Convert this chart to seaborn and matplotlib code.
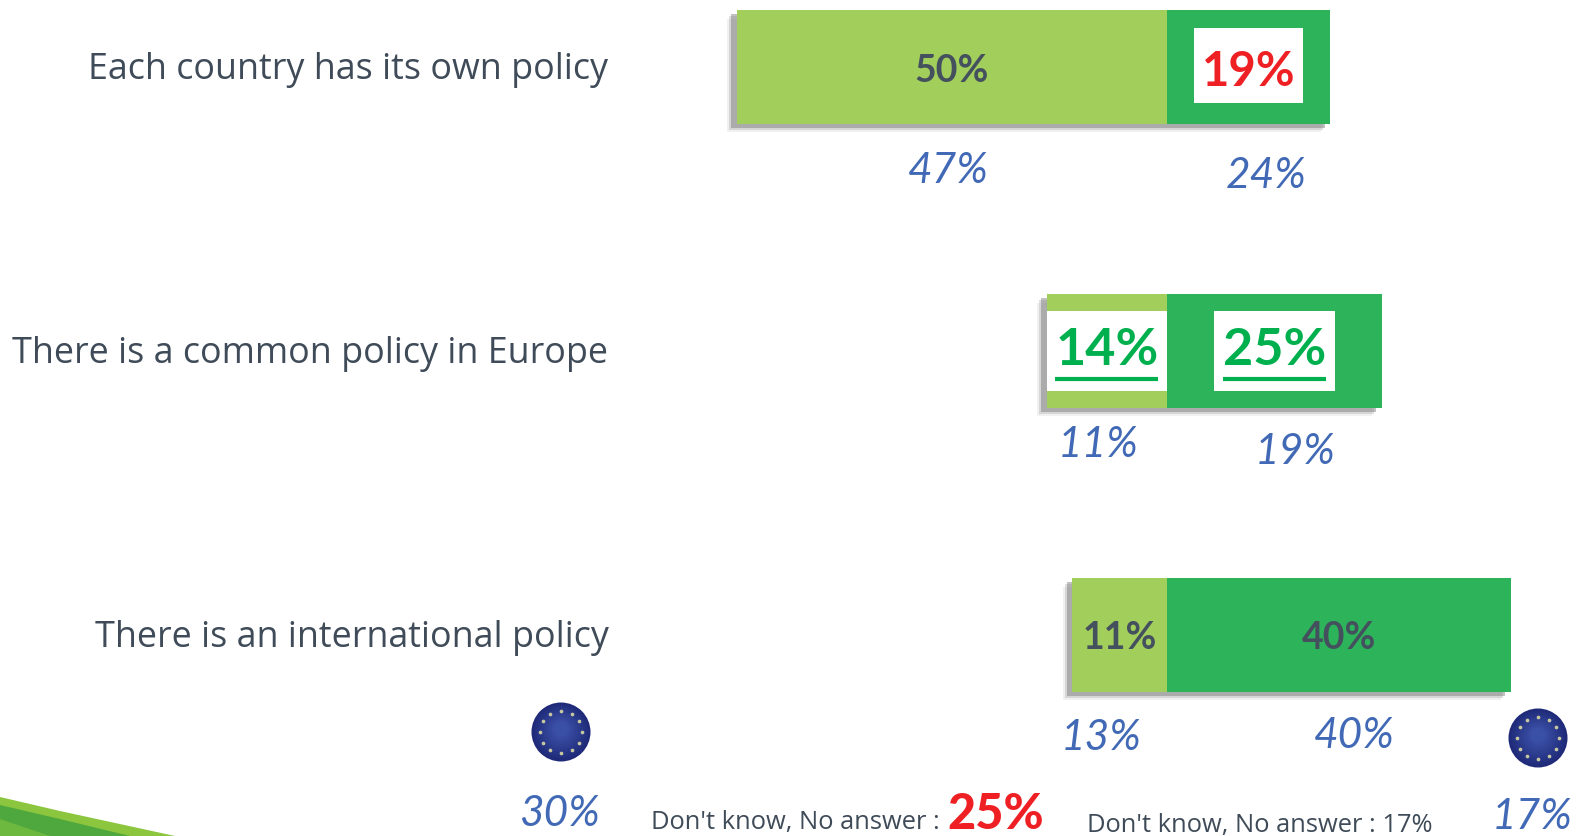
import numpy as np
import pandas as pd
import matplotlib
matplotlib.use("Agg")
import matplotlib.pyplot as plt
import matplotlib.patheffects as pe
from matplotlib.colors import to_rgb
from matplotlib.patches import Circle, Polygon, Rectangle
from matplotlib.transforms import ScaledTranslation
import seaborn as sns

W, H = 1578, 837

categories = ["Each country has its own policy",
              "There is a common policy in Europe",
              "There is an international policy"]
left_values = [50, 14, 11]
right_values = [19, 25, 40]
eu_left_values = [47, 11, 13]
eu_right_values = [24, 19, 40]
eu_none = [30, 17]
dont_know = [25, 17]

LIGHT = "#A2CE5C"
DARK = "#2DB45A"
SLATE = "#44505E"
BLUE = "#4169B5"
RED = "#EE2024"
GREEN = "#00B04F"

sns.set_theme(style="white")
plt.rcParams["font.family"] = "Open Sans"

df = pd.DataFrame({"category": categories,
                   "left": -np.array(left_values),
                   "right": right_values})

fig = plt.figure(figsize=(W / 100, H / 100), dpi=100)
ax_left = 614
ax = fig.add_axes([ax_left / W, 0, 1 - ax_left / W, 1])

# right bars go first, so the shadow of the left ones stays on top of nothing
sns.barplot(data=df, x="right", y="category", color=DARK, saturation=1,
            width=0.4, errorbar=None, orient="h", ax=ax)
sns.barplot(data=df, x="left", y="category", color=LIGHT, saturation=1,
            width=0.4, errorbar=None, orient="h", ax=ax)

shadow = [pe.SimplePatchShadow(offset=(-7, -6), shadow_rgbFace="#bbbbbb", alpha=0.2),
          pe.SimplePatchShadow(offset=(-5.5, -4.5), shadow_rgbFace="#999999", alpha=0.3),
          pe.SimplePatchShadow(offset=(-4, -3), shadow_rgbFace="#777777", alpha=0.45),
          pe.Normal()]
for bar in ax.patches:
    bar.set_path_effects(shadow)
    bar.set_linewidth(0)

# 8.6 px per percent, zero at the split of the bars
px_per_pct = 8.6
zero_px = 1167
row_px = 284
ax.set_xlim((ax_left - zero_px) / px_per_pct, (W - zero_px) / px_per_pct)
ax.set_ylim((H - 68) / row_px, -68 / row_px)
ax.set_xlabel("")
ax.set_ylabel("")
ax.set_xticks([])
ax.tick_params(axis="y", length=0, pad=4, labelsize=25.8, labelcolor="#3F4B58")
sns.despine(ax=ax, left=True, bottom=True)

# labels sit a touch above the bar centres
lift = ScaledTranslation(0, 2 / 100, fig.dpi_scale_trans)
for lab in ax.get_yticklabels():
    lab.set_transform(lab.get_transform() + lift)

num_font = {"family": "Lato", "weight": "bold", "ha": "center", "va": "center"}

# plain labels inside bars
ax.text(-left_values[0] / 2, 0.012, f"{left_values[0]}%", color=SLATE, fontsize=27, **num_font)
ax.text(-left_values[2] / 2, 2.008, f"{left_values[2]}%", color=SLATE, fontsize=27, **num_font)
ax.text(right_values[2] / 2, 2.008, f"{right_values[2]}%", color=SLATE, fontsize=27, **num_font)

# highlighted labels on white boxes
ax.add_patch(Rectangle((right_values[0] / 2 - 6.35, -0.136), 12.7, 0.264, fc="white", lw=0, zorder=4))
ax.text(right_values[0] / 2, 0.015, f"{right_values[0]}%", color=RED, fontsize=34, zorder=5, **num_font)
for val, sign in [(left_values[1], -1), (right_values[1], 1)]:
    cx = sign * val / 2
    ax.add_patch(Rectangle((cx - 7, 1 - 0.141), 14, 0.282, fc="white", lw=0, zorder=4))
    ax.text(cx, 0.995, f"{val}%", color=GREEN, fontsize=37.5, zorder=5, **num_font)
    ax.plot([cx - 6, cx + 6], [1.1, 1.1], color=GREEN, lw=3, solid_capstyle="butt", zorder=5)

# overlay in pixels for everything around the bars
over = fig.add_axes([0, 0, 1, 1], zorder=3)
over.set_xlim(0, W)
over.set_ylim(H, 0)
over.axis("off")
over.patch.set_alpha(0)

eu_font = {"family": "Lato", "style": "italic", "color": BLUE, "fontsize": 30.5,
           "ha": "center", "va": "center"}
eu_left_pos = [(948, 171), (1098, 445), (1101, 738)]
eu_right_pos = [(1266, 176), (1295, 452), (1354, 736)]
for val, (x, y) in zip(eu_left_values, eu_left_pos):
    over.text(x, y, f"{val}%", **eu_font)
for val, (x, y) in zip(eu_right_values, eu_right_pos):
    over.text(x, y, f"{val}%", **eu_font)
over.text(559, 814, f"{eu_none[0]}%", **eu_font)
over.text(1532, 817, f"{eu_none[1]}%", **eu_font)

over.text(651, 823, "Don't know, No answer :", color="#3F4B58", fontsize=18.4, ha="left", va="center")
over.text(996, 815, f"{dont_know[0]}%", color=RED, fontsize=35, ha="center", va="center",
          family="Lato", weight=900)
over.text(1087, 826, f"Don't know, No answer : {dont_know[1]}%", color="#3F4B58", fontsize=18.4,
          ha="left", va="center")


def eu_logo(cx, cy, r):
    c_out = np.array(to_rgb("#1F2A78"))
    c_in = np.array(to_rgb("#3A4FA6"))
    for t in np.linspace(0, 1, 14):
        over.add_patch(Circle((cx, cy - 3 * t), r * (1 - 0.75 * t), fc=c_out + (c_in - c_out) * t, lw=0))
    ang = np.arange(12) * np.pi / 6
    over.scatter(cx + 0.72 * r * np.cos(ang), cy + 0.72 * r * np.sin(ang), s=7, color="#C8C8A0", lw=0, zorder=3)


eu_logo(561, 733, 29.5)
eu_logo(1538, 739, 29.5)

# corner swoosh
over.add_patch(Polygon([(0, 798), (60, 812), (175, 837), (0, 837)], fc="#8CC63F", lw=0))
over.add_patch(Polygon([(0, 806), (60, 820), (130, 837), (0, 837)], fc="#4FA83D", lw=0))
over.add_patch(Polygon([(0, 820), (50, 837), (0, 837)], fc="#6DB83F", lw=0))

fig.savefig("out.png", dpi=100)
plt.close(fig)
